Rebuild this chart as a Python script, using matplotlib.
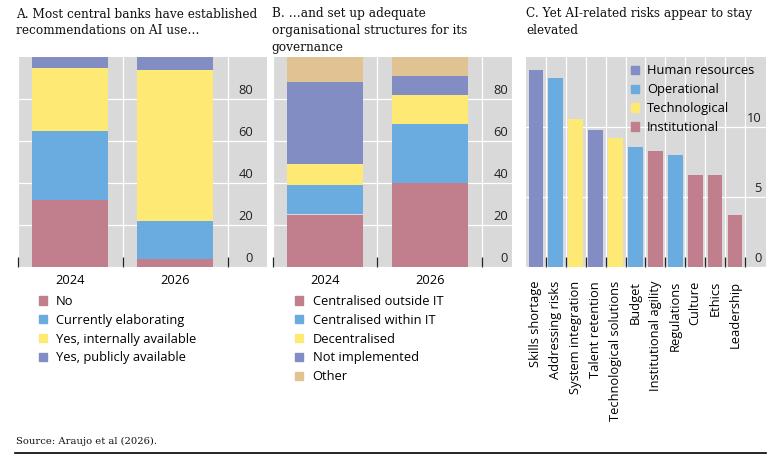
import matplotlib
matplotlib.use('Agg')
import matplotlib.pyplot as plt
from matplotlib.patches import Patch
from matplotlib.lines import Line2D
import matplotlib.transforms as mtrans
import numpy as np

# ---------------- data ----------------
a_years = ['2024', '2026']
a_no = [32, 4]
a_elab = [33, 18]
a_internal = [30, 72]
a_public = [5, 6]
a_labels = ['No', 'Currently elaborating', 'Yes, internally available',
            'Yes, publicly available']

b_years = ['2024', '2026']
b_outside = [25, 40]
b_within = [14, 28]
b_decentral = [10, 14]
b_notimpl = [39, 9]
b_other = [12, 9]
b_labels = ['Centralised outside IT', 'Centralised within IT', 'Decentralised',
            'Not implemented', 'Other']

c_risks = ['Skills shortage', 'Addressing risks', 'System integration',
           'Talent retention', 'Technological solutions', 'Budget',
           'Institutional agility', 'Regulations', 'Culture', 'Ethics',
           'Leadership']
c_values = [14.1, 13.5, 10.6, 9.8, 9.2, 8.6, 8.3, 8.0, 6.6, 6.6, 3.7]
c_groups = ['Human resources', 'Operational', 'Technological', 'Human resources',
            'Technological', 'Operational', 'Institutional', 'Operational',
            'Institutional', 'Institutional', 'Institutional']
c_group_order = ['Human resources', 'Operational', 'Technological', 'Institutional']

ab_yticks = [0, 20, 40, 60, 80]
c_yticks = [0, 5, 10]

titles = ['A. Most central banks have established\nrecommendations on AI use\u2026',
          'B. \u2026and set up adequate\norganisational structures for its\ngovernance',
          'C. Yet AI-related risks appear to stay\nelevated']
source = 'Source: Araujo et al (2026).'

# ---------------- style ----------------
PINK = '#C17F8E'
BLUE = '#6AACE0'
YELLOW = '#FFE975'
PURPLE = '#828DC4'
TAN = '#E1C292'
BG = '#D9D9D9'
SANS = 'Open Sans'
SERIF = 'DejaVu Serif'
FS = 9.3

group_colors = {'Human resources': PURPLE, 'Operational': BLUE,
                'Technological': YELLOW, 'Institutional': PINK}

W, H = 772, 463
fig = plt.figure(figsize=(W / 100, H / 100), dpi=100)


def px_axes(x0, x1, y0, y1):
    return fig.add_axes([x0 / W, 1 - y1 / H, (x1 - x0) / W, (y1 - y0) / H])


def style(ax, ncat, xmax, ymax, yticks, label_x, first_boundary, xpad, rot):
    ax.set_facecolor(BG)
    for s in ax.spines.values():
        s.set_visible(False)
    ax.set_xlim(-0.5, xmax)
    ax.set_ylim(0, ymax)
    ax.set_yticks(yticks)
    ax.tick_params(axis='y', length=0, labelleft=False, labelright=False)
    bounds = np.arange(first_boundary, ncat, 1.0)
    ax.set_xticks(bounds, minor=True)
    ax.tick_params(axis='x', which='minor', direction='in', length=7.5,
                   width=0.9, color='#222222')
    ax.tick_params(axis='x', which='major', length=0, pad=xpad,
                   labelsize=FS, labelrotation=rot)
    ax.set_axisbelow(True)
    ax.grid(axis='y', which='major', color='white', lw=0.9)
    ax.grid(axis='x', which='minor', color='white', lw=0.9)
    tr = mtrans.offset_copy(ax.transData, fig=fig, x=0, y=3.4, units='points')
    for t in yticks:
        ax.text(label_x, t, f'{t:g}', transform=tr, ha='right', va='baseline',
                fontsize=FS, family=SANS, color='#222222')


# ---------------- panel A ----------------
axA = px_axes(17.5, 266.5, 57, 267)
xa = np.arange(len(a_years))
bottom = np.zeros(len(a_years))
for vals, col, lab in zip([a_no, a_elab, a_internal, a_public],
                          [PINK, BLUE, YELLOW, PURPLE], a_labels):
    axA.bar(xa, vals, bottom=bottom, width=0.72, color=col, label=lab, zorder=3)
    bottom += np.array(vals)
axA.set_xticks(xa)
axA.set_xticklabels(a_years, family=SANS)
style(axA, len(a_years), 1.867, 100, ab_yticks, 1.74, -0.5, 5, 0)

# ---------------- panel B ----------------
axB = px_axes(272.5, 512, 57, 267)
xb = np.arange(len(b_years))
bottom = np.zeros(len(b_years))
for vals, col, lab in zip([b_outside, b_within, b_decentral, b_notimpl, b_other],
                          [PINK, BLUE, YELLOW, PURPLE, TAN], b_labels):
    axB.bar(xb, vals, bottom=bottom, width=0.72, color=col, label=lab, zorder=3)
    bottom += np.array(vals)
axB.set_xticks(xb)
axB.set_xticklabels(b_years, family=SANS)
style(axB, len(b_years), 1.781, 100, ab_yticks, 1.745, -0.5, 5, 0)

# ---------------- panel C ----------------
axC = px_axes(526, 766, 57, 267)
xc = np.arange(len(c_risks))
axC.bar(xc, c_values, width=0.74, color=[group_colors[g] for g in c_groups],
        zorder=3)
axC.set_xticks(xc)
axC.set_xticklabels(c_risks, family=SANS)
style(axC, len(c_risks), 11.555, 15, c_yticks, 11.35, 0.5, 10, 90)
for lbl in axC.get_xticklabels():
    lbl.set_ha('center')
    lbl.set_va('top')

# ---------------- legends ----------------
leg_kw = dict(frameon=False, borderpad=0, handlelength=0.62, handleheight=0.62,
              labelspacing=0.45, prop={'family': SANS, 'size': FS},
              loc='upper left', borderaxespad=0)

hA = [Patch(color=c) for c in [PINK, BLUE, YELLOW, PURPLE]]
fig.legend(hA, a_labels, bbox_to_anchor=(39 / W, 1 - 295 / H),
           handletextpad=0.7, **leg_kw)
hB = [Patch(color=c) for c in [PINK, BLUE, YELLOW, PURPLE, TAN]]
fig.legend(hB, b_labels, bbox_to_anchor=(295 / W, 1 - 295 / H),
           handletextpad=0.75, **leg_kw)
hC = [Patch(color=group_colors[g]) for g in c_group_order]
fig.legend(hC, c_group_order, bbox_to_anchor=(630.5 / W, 1 - 64.5 / H),
           handletextpad=0.65, **leg_kw)

# ---------------- titles, source, rule ----------------
for x, t in zip([16, 271.5, 526.5], titles):
    fig.text(x / W, 1 - 7.5 / H, t, ha='left', va='top', family=SERIF,
             fontsize=8.7, linespacing=1.35, color='#111111')

fig.text(16 / W, 1 - 441.5 / H, source, ha='left', va='center', family=SERIF,
         fontsize=7.2, color='#111111')
fig.add_artist(Line2D([15 / W, 766 / W], [1 - 452.7 / H, 1 - 452.7 / H],
                      transform=fig.transFigure, color='black', lw=1.2))

fig.savefig('out.png', dpi=100)
